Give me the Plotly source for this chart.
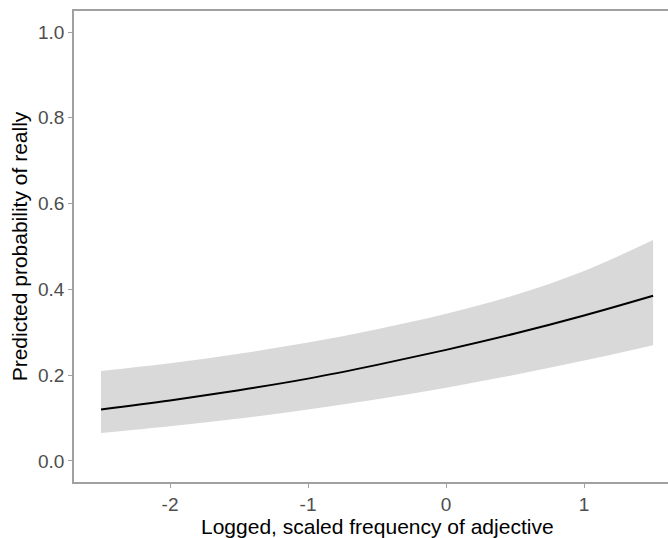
import plotly.graph_objects as go

# Data
freq = [-2.5, -2.0, -1.5, -1.0, -0.5, 0.0, 0.5, 1.0, 1.5]
fit = [0.120, 0.141, 0.165, 0.192, 0.224, 0.259, 0.297, 0.339, 0.385]
lower = [0.065, 0.081, 0.099, 0.120, 0.144, 0.171, 0.201, 0.234, 0.270]
upper = [0.210, 0.228, 0.250, 0.276, 0.307, 0.343, 0.387, 0.443, 0.515]

x_ticks = [-2, -1, 0, 1]
x_tick_text = ["-2", "-1", "0", "1"]
y_ticks = [0.0, 0.2, 0.4, 0.6, 0.8, 1.0]
y_tick_text = ["0.0", "0.2", "0.4", "0.6", "0.8", "1.0"]

FONT = "Liberation Sans, Arial, sans-serif"

fig = go.Figure()
fig.add_trace(go.Scatter(
    x=freq, y=upper, mode="lines", line=dict(width=0, shape="spline"),
    hoverinfo="skip", showlegend=False))
fig.add_trace(go.Scatter(
    x=freq, y=lower, mode="lines", line=dict(width=0, shape="spline"),
    fill="tonexty", fillcolor="#d9d9d9", hoverinfo="skip", showlegend=False))
fig.add_trace(go.Scatter(
    x=freq, y=fit, mode="lines", line=dict(color="black", width=2, shape="spline"),
    showlegend=False))

axis_common = dict(
    showgrid=False, zeroline=False, showline=True, linecolor="#a0a0a0", linewidth=1.5,
    ticks="outside", ticklen=4, tickwidth=1.2, tickcolor="#a0a0a0",
    tickfont=dict(family=FONT, size=19, color="#4d4d4d"),
)

fig.update_layout(
    width=668, height=538,
    margin=dict(l=74, r=0, t=11, b=56),
    plot_bgcolor="white", paper_bgcolor="white",
    font=dict(family=FONT),
    xaxis=dict(
        range=[-2.6957, 1.608], tickvals=x_ticks, ticktext=x_tick_text, mirror=True,
        **axis_common),
    yaxis=dict(
        range=[-0.049, 1.049], tickvals=y_ticks, ticktext=y_tick_text,
        title=dict(text="Predicted probability of really",
                   font=dict(size=21, color="black"), standoff=5),
        **axis_common),
    annotations=[dict(
        text="Logged, scaled frequency of adjective", xref="x", yref="paper",
        x=-0.4957, y=0, yshift=-57, xanchor="center", yanchor="bottom",
        borderpad=0, showarrow=False, font=dict(family=FONT, size=21, color="black"))],
)

fig.write_html("out.html")
